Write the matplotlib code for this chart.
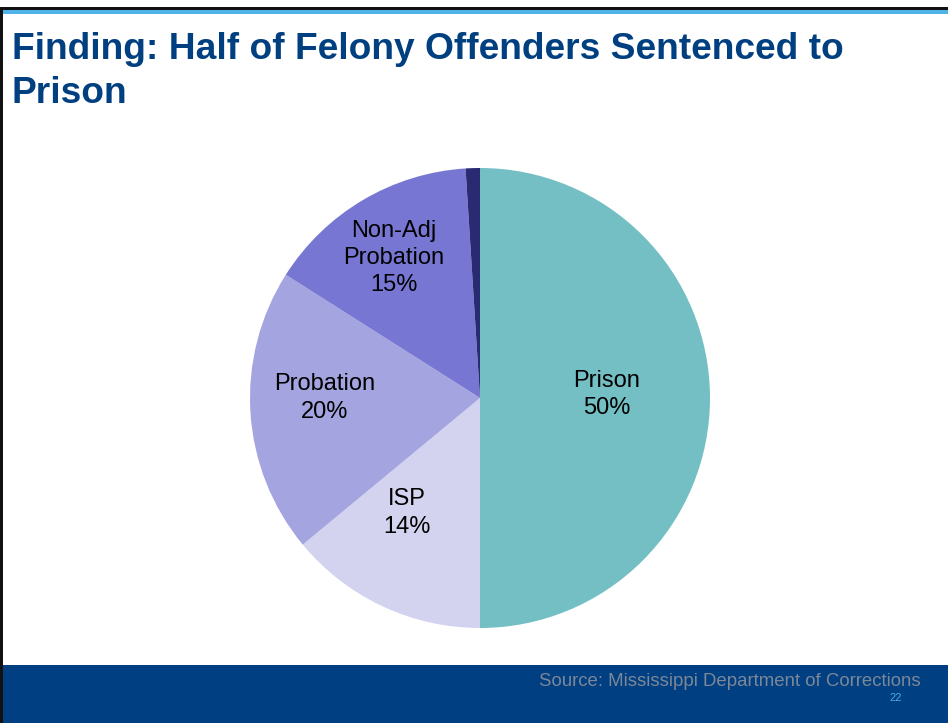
import matplotlib
matplotlib.use("Agg")
import matplotlib.pyplot as plt
from matplotlib.patches import Rectangle
import numpy as np

# Sentencing outcomes for felony offenders (percent)
categories = ["Prison", "ISP", "Probation", "Non-Adj\nProbation", "Other"]
shares = [50, 14, 20, 15, 1]
show_label = [True, True, True, True, False]
colors = ["#73BFC4", "#D3D3F0", "#A4A4E0", "#7777D3", "#2A2A72"]

title = "Finding: Half of Felony Offenders Sentenced to\nPrison"
source = "Source: Mississippi Department of Corrections"
page = "22"

W, H, DPI = 948, 723, 100
plt.rcParams["font.family"] = ["Liberation Sans", "DejaVu Sans"]

fig = plt.figure(figsize=(W / DPI, H / DPI), dpi=DPI)
fig.patch.set_facecolor("white")

# Slide frame drawn in pixel coordinates
bg = fig.add_axes([0, 0, 1, 1])
bg.set_xlim(0, W)
bg.set_ylim(H, 0)
bg.axis("off")
bg.add_patch(Rectangle((0, 665), W, H - 665, color="#003F82", lw=0))
bg.add_patch(Rectangle((0, 7), W, 2.5, color="#111111", lw=0))
bg.add_patch(Rectangle((0, 9.5), W, 4, color="#4FB3E8", lw=0))
bg.add_patch(Rectangle((0, 7), 3, H - 7, color="#111111", lw=0))

line1, line2 = title.split("\n")
bg.text(12, 59, line1, fontsize=26.7, fontweight="bold",
        color="#003F80", ha="left", va="baseline")
bg.text(12, 103, line2, fontsize=26.7, fontweight="bold",
        color="#003F80", ha="left", va="baseline")
bg.text(921, 686, source, fontsize=13.4, color="#7C8797", ha="right", va="baseline")
bg.text(902, 701, page, fontsize=8, color="#4FA8E6", ha="right", va="baseline")

# Pie chart: center (480, 398) px, radius 230 px
cx, cy, r = 480, 398, 230
pie_ax = fig.add_axes([(cx - r) / W, (H - cy - r) / H, 2 * r / W, 2 * r / H])
wedges, _ = pie_ax.pie(shares, colors=colors, startangle=90, counterclock=False,
                       wedgeprops=dict(linewidth=0))
pie_ax.set_xlim(-1, 1)
pie_ax.set_ylim(-1, 1)

# label placement: radial distance and angular nudge per wedge
label_dist = [0.552, 0.592, 0.674, 0.715, 0.0]
label_nudge = [1.4, -7.2, -3.6, 1.0, 0.0]
for w, cat, val, show, d, nd in zip(wedges, categories, shares, show_label,
                                    label_dist, label_nudge):
    if not show:
        continue
    mid = np.deg2rad((w.theta1 + w.theta2) / 2 + nd)
    pie_ax.text(d * np.cos(mid), d * np.sin(mid), f"{cat}\n{val}%",
                ha="center", va="center", multialignment="center",
                fontsize=17, color="black", linespacing=1.3)

fig.savefig("out.png", dpi=DPI)
